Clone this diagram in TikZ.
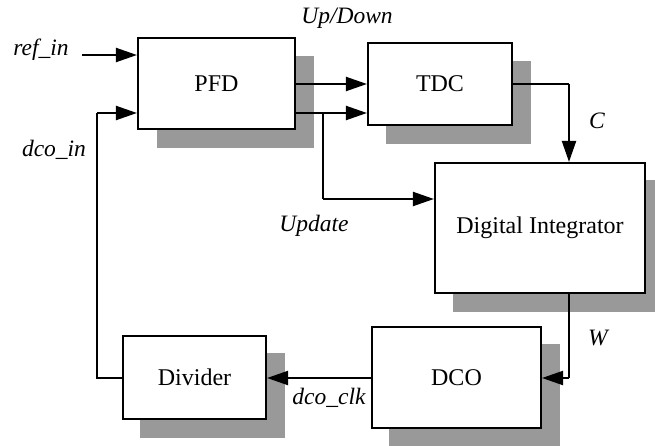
\documentclass[tikz,border=0pt]{standalone}
\usepackage{fontspec}
\setmainfont{Liberation Serif}
\usetikzlibrary{arrows.meta,calc}
\definecolor{shadowgray}{HTML}{999999}
\begin{document}
\begin{tikzpicture}[x=1pt,y=-1pt,
  blk/.style={draw,line width=2.1pt,fill=white,rectangle,inner sep=0pt,
    font=\fontsize{24}{28}\selectfont},
  conn/.style={line width=2.1pt},
  arr/.style={line width=2.1pt,-{Triangle[length=21pt,width=14pt]}},
  lbl/.style={font=\fontsize{23.5}{28}\selectfont\itshape,inner sep=0pt}]
\useasboundingbox (0,0) rectangle (655,446);
% shadows
\fill[shadowgray] (157,56) rectangle (314,148);
\fill[shadowgray] (386,61) rectangle (531,144);
\fill[shadowgray] (453,180) rectangle (655,312);
\fill[shadowgray] (389,344) rectangle (560,446);
\fill[shadowgray] (140,353) rectangle (285,438);
% blocks
\node[blk,minimum width=157pt,minimum height=91pt] (pfd) at (216.5,83.5) {PFD};
\node[blk,minimum width=144pt,minimum height=82pt] (tdc) at (440,84) {TDC};
\node[blk,minimum width=210pt,minimum height=130pt] (di) at (540,228) {Digital Integrator};
\node[blk,minimum width=169pt,minimum height=101pt] (dco) at (456.5,377.5) {DCO};
\node[blk,minimum width=143pt,minimum height=83pt] (div) at (194.5,377.5) {Divider};
% coordinates
\coordinate (refin) at (82,55);
\coordinate (low) at (0,113);
\coordinate (upd) at (323,113);
\coordinate (updb) at (323,199);
\coordinate (cx) at (569,84);
\coordinate (wy) at (569,378);
\coordinate (fbx) at (97,378);
\coordinate (fbt) at (97,113);
% connectors
\draw[arr] (refin) -- (refin -| pfd.west);
\draw[arr] (pfd.east |- tdc.west) -- (tdc.west);
\draw[arr] (pfd.east |- low) -- (tdc.west |- low);
\draw[conn] (upd) -- (updb);
\draw[arr] (updb) -- (updb -| di.west);
\draw[conn] (tdc.east) -- (cx);
\draw[arr] (cx) -- (cx |- di.north);
\draw[conn] (cx |- di.south) -- (wy);
\draw[arr] (wy) -- (wy -| dco.east);
\draw[arr] (dco.west |- wy) -- (div.east |- wy);
\draw[conn] (div.west |- fbx) -- (fbx) -- (fbt);
\draw[arr] (fbt) -- (fbt -| pfd.west);
% labels
\node[lbl] at (41,50) {ref\_in};
\node[lbl] at (347,18) {Up/Down};
\node[lbl] at (597,121) {C};
\node[lbl] at (314,226) {Update};
\node[lbl] at (598,338) {W};
\node[lbl] at (329,398) {dco\_clk};
\node[lbl] at (54,150) {dco\_in};
\end{tikzpicture}
\end{document}
